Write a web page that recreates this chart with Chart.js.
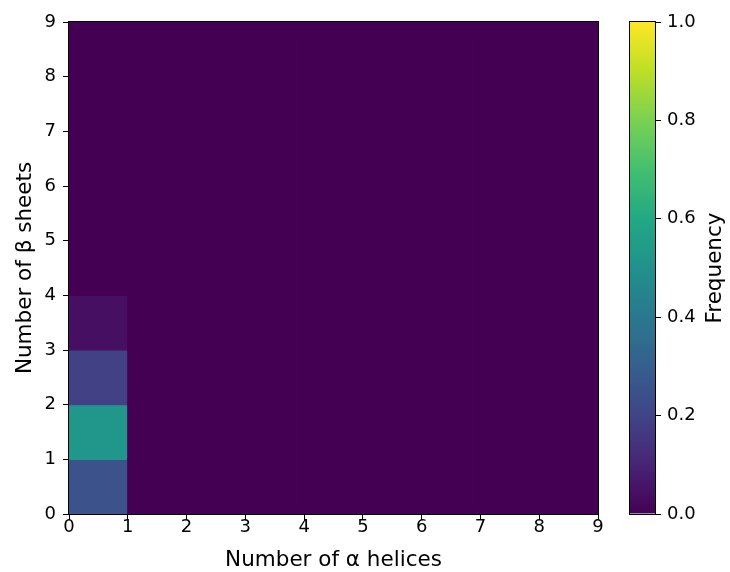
<!DOCTYPE html>
<html lang="en">
<head>
  <meta charset="UTF-8">
  <title>Helices vs sheets</title>
  <script src="https://cdn.jsdelivr.net/npm/chart.js"></script>
  <style>
    body { margin: 0; background: #fff; }
    #wrap { position: relative; width: 730px; height: 572px; }
    #main { position: absolute; left: 0; top: 0; }
    #cbar { position: absolute; left: 605px; top: 0; }
  </style>
</head>
<body>
  <div id="wrap">
    <canvas id="main" width="605" height="572"></canvas>
    <canvas id="cbar" width="125" height="572"></canvas>
  </div>

  <script>
    // bins along each axis (number of helices / sheets)
    const helixBins = [0, 1, 2, 3, 4, 5, 6, 7, 8];
    const sheetBins = [0, 1, 2, 3, 4, 5, 6, 7, 8];
    // frequency of each sheet bin for 0 helices; every other column is 0
    const freqZeroHelices = [0.25, 0.52, 0.19, 0.04, 0, 0, 0, 0, 0];
    const freqOtherHelices = [0, 0, 0, 0, 0, 0, 0, 0, 0];
    const axisTicks = [0, 1, 2, 3, 4, 5, 6, 7, 8, 9];
    const cbarTicks = [0, 0.2, 0.4, 0.6, 0.8, 1.0];

    const viridis = ['#440154', '#482475', '#414487', '#355f8d', '#2a788e',
      '#21918c', '#22a884', '#44bf70', '#7ad151', '#bddf26', '#fde725'];

    function hexRgb(h) {
      return [parseInt(h.slice(1, 3), 16), parseInt(h.slice(3, 5), 16), parseInt(h.slice(5, 7), 16)];
    }
    function viridisAt(v) {
      const t = Math.max(0, Math.min(1, v)) * (viridis.length - 1);
      const i = Math.min(Math.floor(t), viridis.length - 2);
      const f = t - i;
      const a = hexRgb(viridis[i]), b = hexRgb(viridis[i + 1]);
      const c = a.map((x, k) => Math.round(x + (b[k] - x) * f));
      return `rgb(${c[0]},${c[1]},${c[2]})`;
    }

    Chart.defaults.font.family = '"DejaVu Sans", sans-serif';
    Chart.defaults.color = '#000';
    Chart.defaults.animation = false;

    const cells = [];
    helixBins.forEach(h => {
      const col = h === 0 ? freqZeroHelices : freqOtherHelices;
      sheetBins.forEach((s, i) => {
        cells.push({ x: h + 0.5, y: [s, s + 1], v: col[i] });
      });
    });

    const frame = {
      id: 'frame',
      afterDatasetsDraw(chart) {
        const a = chart.chartArea, ctx = chart.ctx;
        ctx.save();
        ctx.strokeStyle = '#000';
        ctx.lineWidth = 1;
        ctx.strokeRect(Math.round(a.left) - 0.5, Math.round(a.top) - 0.5,
          Math.round(a.right - a.left) + 1, Math.round(a.bottom - a.top) + 1);
        ctx.restore();
      }
    };

    const tickAxis = (title, w, isY) => ({
      type: 'linear',
      min: 0,
      max: 9,
      offset: false,
      afterBuildTicks: s => { s.ticks = axisTicks.map(v => ({ value: v })); },
      ticks: { font: { size: 18 }, padding: isY ? 7 : -3, maxRotation: 0, autoSkip: false },
      grid: { offset: false, drawOnChartArea: false, drawTicks: true, tickLength: 6, color: '#000', tickWidth: 1 },
      border: { display: true, color: '#000', width: 1 },
      title: { display: true, text: title, font: { size: 21.5 }, padding: isY ? { top: 13, bottom: 0 } : { top: 0, bottom: -1 } },
      afterFit: s => { if (isY) s.width = w; else s.height = w; }
    });

    new Chart(document.getElementById('main'), {
      type: 'bar',
      data: {
        datasets: [{
          data: cells,
          backgroundColor: ctx => viridisAt(ctx.raw ? ctx.raw.v : 0),
          borderWidth: 0,
          inflateAmount: 0.6,
          barPercentage: 1,
          categoryPercentage: 1
        }]
      },
      options: {
        responsive: false,
        layout: { padding: { left: 0, top: 22, right: 7, bottom: 0 } },
        plugins: { legend: { display: false }, tooltip: { enabled: false } },
        scales: {
          x: tickAxis('Number of α helices', 58, false),
          y: tickAxis('Number of β sheets', 69, true)
        }
      },
      plugins: [frame]
    });

    new Chart(document.getElementById('cbar'), {
      type: 'bar',
      data: {
        labels: [''],
        datasets: [{
          data: [[0, 1]],
          backgroundColor: ctx => {
            const a = ctx.chart.chartArea;
            if (!a) return viridis[0];
            const g = ctx.chart.ctx.createLinearGradient(0, a.bottom, 0, a.top);
            viridis.forEach((c, i) => g.addColorStop(i / (viridis.length - 1), c));
            return g;
          },
          borderWidth: 0,
          inflateAmount: 0,
          barPercentage: 1,
          categoryPercentage: 1
        }]
      },
      options: {
        responsive: false,
        layout: { padding: { left: 25, top: 22, right: 0, bottom: 58 } },
        plugins: {
          legend: { display: false }, tooltip: { enabled: false },
          cbarTitle: { text: 'Frequency' }
        },
        scales: {
          x: { display: false },
          y: {
            position: 'right',
            min: 0,
            max: 1,
            afterBuildTicks: s => { s.ticks = cbarTicks.map(v => ({ value: v })); },
            ticks: { font: { size: 18 }, padding: 6, callback: v => v.toFixed(1) },
            grid: { drawOnChartArea: false, drawTicks: true, tickLength: 6, color: '#000' },
            border: { display: true, color: '#000' },
            afterFit: s => { s.width = 75; }
          }
        }
      },
      plugins: [frame, {
        id: 'cbarTitle',
        afterDraw(chart, args, opts) {
          const a = chart.chartArea, ctx = chart.ctx;
          ctx.save();
          ctx.translate(a.right + 60, (a.top + a.bottom) / 2);
          ctx.rotate(-Math.PI / 2);
          ctx.font = '21.5px "DejaVu Sans", sans-serif';
          ctx.fillStyle = '#000';
          ctx.textAlign = 'center';
          ctx.textBaseline = 'middle';
          ctx.fillText(opts.text, 0, 0);
          ctx.restore();
        }
      }]
    });
  </script>
</body>
</html>
